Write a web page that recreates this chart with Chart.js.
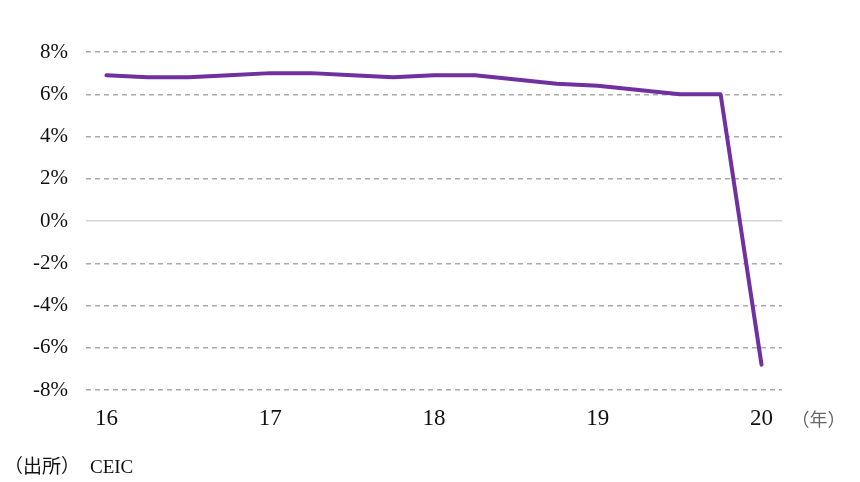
<!DOCTYPE html>
<html>
<head>
<meta charset="utf-8">
<script src="https://cdn.jsdelivr.net/npm/chart.js@4"></script>
<style>
  html, body { margin:0; padding:0; background:#fff; }
  #wrap { position:relative; width:860px; height:482px; }
</style>
</head>
<body>
<div id="wrap"><canvas id="gdpChart" width="860" height="482"></canvas></div>
<script>
/* 実質GDP成長率（前年同期比、四半期） */
const QUARTERS = ['16Q1','16Q2','16Q3','16Q4','17Q1','17Q2','17Q3','17Q4','18Q1','18Q2','18Q3','18Q4','19Q1','19Q2','19Q3','19Q4','20Q1'];
const GROWTH   = [6.9,6.8,6.8,6.9,7.0,7.0,6.9,6.8,6.9,6.9,6.7,6.5,6.4,6.2,6.0,6.0,-6.8];
const YEAR_TICKS = ['16','17','18','19','20'];
const Y_MIN = -8, Y_MAX = 8, Y_STEP = 2;
const X_UNIT = '（年）';
const SOURCE_LABEL = '（出所）';
const SOURCE_NAME = 'CEIC';

const SERIF = '"Liberation Serif", "Times New Roman", "Noto Sans CJK JP", serif';

const notes = {
  id:'notes',
  afterDraw(chart) {
    const c = chart.ctx, x = chart.scales.x;
    c.save();
    c.textBaseline = 'middle';
    c.fillStyle = '#666';
    c.font = '18px ' + SERIF;
    c.fillText(X_UNIT, x.getPixelForValue(QUARTERS.length-1) + 30, 421);
    c.fillStyle = '#111';
    c.font = '19px ' + SERIF;
    c.fillText(SOURCE_LABEL, 4, 468);
    c.fillText(SOURCE_NAME, 90, 468);
    c.restore();
  }
};

const ctx = document.getElementById('gdpChart').getContext('2d');
new Chart(ctx, {
  type:'line',
  data:{
    labels: QUARTERS,
    datasets:[{ data:GROWTH, borderColor:'#7030A0', borderWidth:4, tension:0, pointRadius:0, fill:false, borderCapStyle:'round', borderJoinStyle:'round' }]
  },
  options:{
    responsive:false, animation:false,
    layout:{ padding:{ top:52, right:78, left:0, bottom:0 } },
    plugins:{ legend:{display:false}, tooltip:{enabled:false} },
    scales:{
      x:{
        offset:true,
        grid:{ display:false, drawTicks:false },
        border:{ display:false },
        ticks:{
          autoSkip:false, maxRotation:0, padding:15, color:'#111',
          font:{ size:23, family:SERIF },
          callback:(v,i)=> i%4===0 ? YEAR_TICKS[i/4] : ''
        },
        afterFit:s=>{ s.height = 92; }
      },
      y:{
        min:Y_MIN, max:Y_MAX,
        grid:{ drawTicks:false, lineWidth:1.4, color:c=> c.tick && c.tick.value===0 ? '#d4d4d4' : '#aaaaaa' },
        border:{ display:false, dash:c=> c.tick && c.tick.value===0 ? [] : [5,4] },
        ticks:{
          stepSize:Y_STEP, padding:18, color:'#111',
          font:{ size:21, family:SERIF },
          callback:v=> v + '%'
        },
        afterFit:s=>{ s.width = 86; }
      }
    }
  },
  plugins:[notes]
});
</script>
</body>
</html>
